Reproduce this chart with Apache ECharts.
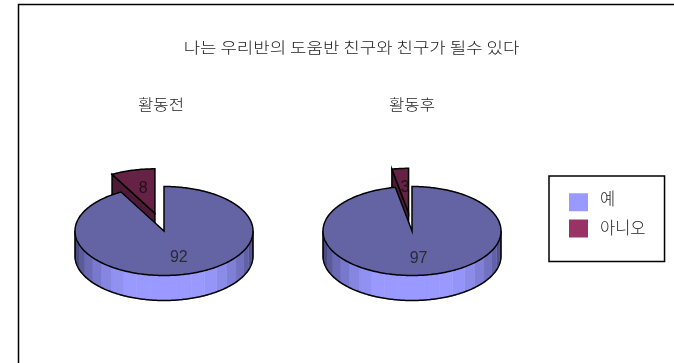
<!DOCTYPE html>
<html>
<head>
<meta charset="utf-8">
<style>html,body{margin:0;padding:0;background:#fff}#c{width:674px;height:363px}</style>
<script src="https://cdn.jsdelivr.net/npm/echarts@6/dist/echarts.min.js"></script>
</head>
<body>
<div id="c"></div>
<script>
const chartTitle = '나는 우리반의 도움반 친구와 친구가 될수 있다';
const pieTitles = ['활동전', '활동후'];
const yesName = '예';
const noName = '아니오';
const yesValues = [92, 97];
const noValues = [8, 3];

const FONT = '"Noto Sans CJK KR", "Noto Sans", sans-serif';
const NUM_FONT = '16px "Liberation Sans", sans-serif';
const pieCenters = [[164, 231], [412, 231]];
const pieTitleX = [161, 412];
const RX = 89, RY = 44.5, DEPTH = 25, EXPLODE = 0.41;
const BAND_DEG = 9;
const EDGE = 1.5;
const LABEL_NUDGE = [1.5, 1];

// Angles are degrees clockwise from 12 o'clock; the ellipse is the tilted pie.
function pt(cx, cy, deg, r = 1) {
  const a = deg * Math.PI / 180;
  return [cx + RX * r * Math.sin(a), cy - RY * r * Math.cos(a)];
}
function arc(cx, cy, from, to) {
  const pts = [];
  const n = Math.max(2, Math.ceil(Math.abs(to - from)));
  for (let i = 0; i <= n; i++) pts.push(pt(cx, cy, from + (to - from) * i / n));
  return pts;
}
function mix(a, b, t) {
  return 'rgb(' + a.map((v, i) => Math.round(v + (b[i] - v) * t)).join(',') + ')';
}
function poly(points, style, z2) {
  return { type: 'polygon', shape: { points }, style, z2 };
}
function line(points, z2) {
  return { type: 'polyline', shape: { points }, style: { fill: 'none', stroke: '#000', lineWidth: EDGE }, z2 };
}
// Heading text, stretched horizontally to the wide set of the chart's lettering.
function heading(text, x, y, stretch) {
  return { type: 'text', x, y, scaleX: stretch, silent: true,
    style: { text, fill: '#222', font: '300 15px ' + FONT, align: 'center', verticalAlign: 'middle' } };
}
function valueLabel(pos, value, fill, z2) {
  return { type: 'text', x: pos[0] + LABEL_NUDGE[0], y: pos[1] + LABEL_NUDGE[1], z2,
    style: { text: String(value), fill, font: NUM_FONT, align: 'center', verticalAlign: 'middle' } };
}

// Rim of the disc, shaded in angular steps: bright at the front, dark at the edges.
function rimBands(cx, cy, from, to) {
  const out = [];
  const dark = [56, 56, 104], light = [153, 153, 255];
  for (let d = Math.max(from, 90); d < Math.min(to, 270); d += BAND_DEG) {
    const e = Math.min(d + BAND_DEG, to, 270);
    const mid = (d + e) / 2;
    const c = Math.max(0, Math.cos((mid - 178) * Math.PI / 180));
    const t = Math.min(1, 1.12 * Math.pow(c, 1.1));
    const top = arc(cx, cy, d, e);
    const bottom = top.map(p => [p[0], p[1] + DEPTH]).reverse();
    const fill = mix(dark, light, t);
    out.push(poly(top.concat(bottom), { fill, stroke: fill, lineWidth: 0.5 }, 1));
  }
  return out;
}

function yesSlice(params, api) {
  const i = params.dataIndex;
  const [cx, cy] = pieCenters[i];
  const end = 360 * api.value(0) / (api.value(0) + noValues[i]);
  const rim = arc(cx, cy, 90, Math.min(270, end));
  const rimLow = rim.map(p => [p[0], p[1] + DEPTH]);
  const outer = arc(cx, cy, 0, end);
  return {
    type: 'group',
    children: rimBands(cx, cy, 90, end).concat([
      line(rimLow, 2),
      line([rim[0], rimLow[0]], 2),
      line([rim[rim.length - 1], rimLow[rimLow.length - 1]], 2),
      poly(outer.concat([[cx, cy]]), { fill: '#6464a4', stroke: '#000', lineWidth: EDGE }, 3),
      valueLabel(pt(cx, cy, end / 2, 0.6), api.value(0), '#2a2a33', 4)
    ])
  };
}

function noSlice(params, api) {
  const i = params.dataIndex;
  const [c0x, c0y] = pieCenters[i];
  const v = api.value(0);
  const start = 360 * yesValues[i] / (yesValues[i] + v);
  const mid = (start + 360) / 2;
  const [cx, cy] = pt(c0x, c0y, mid, EXPLODE);
  const corner = pt(cx, cy, start);
  return {
    type: 'group',
    children: [
      // cut face turned toward the viewer
      poly([corner, [cx, cy], [cx, cy + DEPTH], [corner[0], corner[1] + DEPTH]],
        { fill: '#4e1a36', stroke: '#000', lineWidth: EDGE }, 1),
      poly(arc(cx, cy, start, 360).concat([[cx, cy]]),
        { fill: '#662244', stroke: '#000', lineWidth: EDGE }, 2),
      valueLabel(pt(cx, cy, mid, 0.6), v, '#221018', 3)
    ]
  };
}

const chart = echarts.init(document.getElementById('c'), null, { renderer: 'canvas' });
chart.setOption({
  animation: false,
  backgroundColor: '#fff',
  legend: {
    left: 549, top: 176,
    orient: 'vertical',
    align: 'left',
    backgroundColor: '#fff',
    borderColor: '#000', borderWidth: 1.5, borderRadius: 0,
    padding: [14, 19, 24, 20],
    itemWidth: 19, itemHeight: 18, itemGap: 8,
    icon: 'rect',
    selectedMode: false,
    // an empty second line of set height lifts each name above its swatch's centre
    formatter: name => name === yesName ? `{t|${name}}\n{lift|}` : `{t|${name}}\n{liftSmall|}`,
    textStyle: {
      fontFamily: FONT, fontWeight: 300, fontSize: 16.5, color: '#222',
      rich: {
        t: { fontFamily: FONT, fontWeight: 300, fontSize: 16.5, color: '#222', padding: [0, 0, 0, 7] },
        lift: { height: 8, fontSize: 1 },
        liftSmall: { height: 2, fontSize: 1 }
      }
    },
    data: [yesName, noName]
  },
  graphic: [
    { type: 'polyline', silent: true, shape: { points: [[18.5, 363], [18.5, 4.5], [674, 4.5]] },
      style: { fill: 'none', stroke: '#000', lineWidth: 1.5 } },
    heading(chartTitle, 351.5, 47, 1.19),
    heading(pieTitles[0], pieTitleX[0], 104, 1.11),
    heading(pieTitles[1], pieTitleX[1], 104, 1.11)
  ],
  series: [
    { type: 'custom', name: noName, coordinateSystem: 'none', z: 2, data: noValues,
      itemStyle: { color: '#993366' }, renderItem: noSlice, silent: true },
    { type: 'custom', name: yesName, coordinateSystem: 'none', z: 3, data: yesValues,
      itemStyle: { color: '#9999ff' }, renderItem: yesSlice, silent: true }
  ]
});
</script>
</body>
</html>
